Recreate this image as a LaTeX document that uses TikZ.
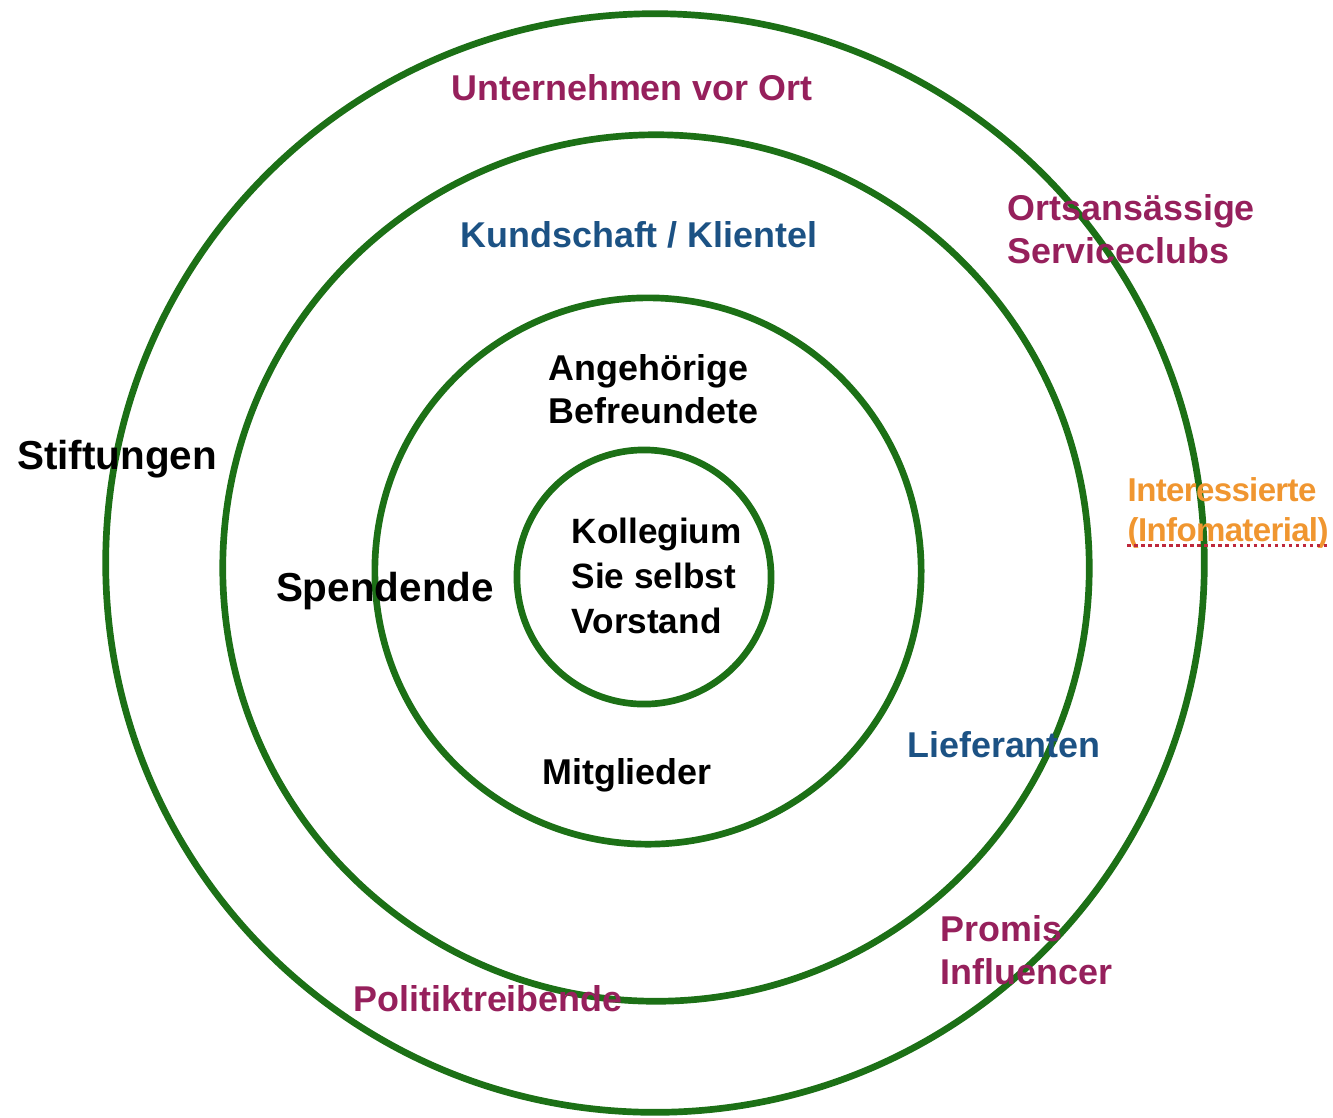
\documentclass[tikz,border=0pt]{standalone}
\usepackage{fontspec}
\setmainfont{Liberation Sans}
\usepackage{xcolor}
\definecolor{ringgreen}{RGB}{28,112,22}
\definecolor{lokalmagenta}{RGB}{150,32,92}
\definecolor{kundenblue}{RGB}{28,82,132}
\definecolor{infoorange}{RGB}{240,150,48}
\definecolor{spellred}{RGB}{190,40,60}
\usepackage{tikz}
\usetikzlibrary{positioning}

\begin{document}
\begin{tikzpicture}[x=0.01cm, y=-0.01cm,
	ring/.style={circle, draw=ringgreen, line width=1.9pt, inner sep=0pt},
	lbl/.style={font=\bfseries\fontsize{10.2}{12.2}\selectfont, align=left, inner sep=0pt},
	gross/.style={lbl, font=\bfseries\fontsize{11.5}{13.8}\selectfont},
	innen/.style={lbl, font=\bfseries\fontsize{10}{12.8}\selectfont},
	lokal/.style={lbl, text=lokalmagenta},
	kunde/.style={lbl, text=kundenblue},
	info/.style={lbl, text=infoorange,
	             font=\bfseries\fontsize{9.4}{11.4}\selectfont\addfontfeatures{LetterSpace=-2}},
	spell/.style={draw=spellred, densely dotted, line width=1pt}
	]
	\useasboundingbox (0,0) rectangle (1333,1117);

	% Kreise von aussen nach innen
	\node[ring, minimum size=10.98cm] (aussen) at (655,563) {};
	\node[ring, minimum size=8.66cm] (mitte) at (656,568) {};
	\node[ring, minimum size=5.46cm] (nah) at (648,571) {};
	\node[ring, minimum size=2.54cm] (kern) at (644,577) {};

	% Beschriftungen
	\node[lokal] (unternehmen) at (632,88) {Unternehmen vor Ort};
	\node[kunde] (kundschaft) at (639,235) {Kundschaft / Klientel};
	\node[lokal, anchor=west] (serviceclubs) at (1007,229) {Ortsansässige\\Serviceclubs};
	\node[lbl, anchor=west] (angehoerige) at (548,389) {Angehörige\\Befreundete};
	\node[gross] (stiftungen) at (117,459) {Stiftungen};
	\node[info, anchor=west] (interessierte) at (1127,513) {Interessierte\\(Infomaterial)};
	\node[innen, anchor=west] (kollegium) at (571,576) {Kollegium\\Sie selbst\\Vorstand};
	\node[gross] (spendende) at (385,591) {Spendende};
	\node[kunde] (lieferanten) at (1004,745) {Lieferanten};
	\node[lbl] (mitglieder) at (627,775) {Mitglieder};
	\node[lokal, anchor=west] (promis) at (940,950) {Promis\\Influencer};
	\node[lokal] (politik) at (488,999) {Politiktreibende};

	\draw[spell] ([yshift=1pt]interessierte.south west) -- ([yshift=1pt]interessierte.south east);
\end{tikzpicture}
\end{document}
